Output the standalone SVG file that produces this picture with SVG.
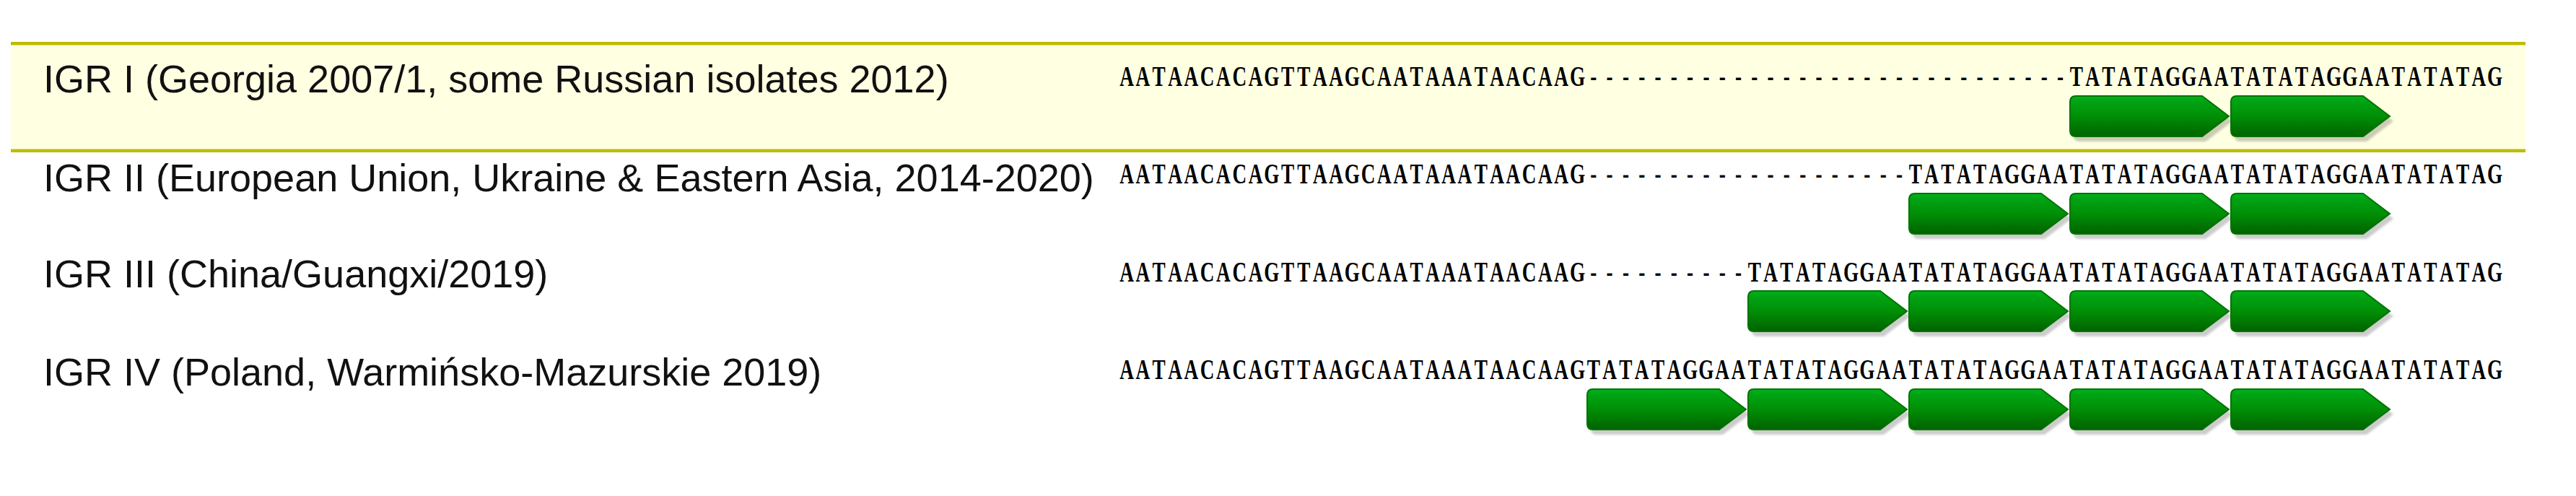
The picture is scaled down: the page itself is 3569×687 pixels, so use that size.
<svg xmlns="http://www.w3.org/2000/svg" xmlns:xlink="http://www.w3.org/1999/xlink" width="3569" height="687" viewBox="0 0 3569 687">
<style>
.lbl{font-family:"Liberation Sans",Arial,sans-serif;font-size:54px;fill:#111}
.seq{font-family:"Liberation Serif","Times New Roman",serif;font-size:39px;font-weight:bold;fill:#000;text-anchor:middle}
.band{fill:#ffffe2}
.rule{fill:#bdbb00}
</style>
<defs>
<linearGradient id="gg" x1="0" y1="0" x2="0" y2="1">
<stop offset="0" stop-color="#00b31e"/>
<stop offset="0.12" stop-color="#00a414"/>
<stop offset="0.5" stop-color="#008f06"/>
<stop offset="1" stop-color="#006200"/>
</linearGradient>
<filter id="blur" x="-10%" y="-20%" width="120%" height="140%"><feGaussianBlur stdDeviation="1.6"/></filter>
<path id="ap" d="M8,0 H183 L220,28 L183,56 H8 Q0,56 0,48 V8 Q0,0 8,0 Z"/>
<g id="arrow">
<use xlink:href="#ap" href="#ap" transform="translate(5,7)" fill="#000" fill-opacity="0.2" filter="url(#blur)"/>
<use xlink:href="#ap" href="#ap" fill="url(#gg)" stroke="#007300" stroke-width="2"/>
</g>
</defs>
<rect x="0" y="0" width="3569" height="687" fill="#fff"/>
<g id="band1">
<rect class="band" x="15" y="58" width="3484" height="153"/>
<rect class="rule" x="15" y="58" width="3484" height="4.5"/>
<rect class="rule" x="15" y="206.5" width="3484" height="4.5"/>
</g>
<g id="connectors"/>
<g id="row1">
<text class="lbl" x="60" y="128">IGR I (Georgia 2007/1, some Russian isolates 2012)</text>
<g transform="scale(0.7,1)"><text class="seq" y="119" x="2230.2 2262.1 2293.9 2325.8 2357.6 2389.5 2421.4 2453.2 2485.1 2516.9 2548.8 2580.6 2612.5 2644.4 2676.2 2708.1 2739.9 2771.8 2803.6 2835.5 2867.3 2899.2 2931.1 2962.9 2994.8 3026.6 3058.5 3090.3 3122.2 3154.1 3185.9 3217.8 3249.6 3281.5 3313.3 3345.2 3377.1 3408.9 3440.8 3472.6 3504.5 3536.3 3568.2 3600.0 3631.9 3663.8 3695.6 3727.5 3759.3 3791.2 3823.0 3854.9 3886.8 3918.6 3950.5 3982.3 4014.2 4046.0 4077.9 4109.8 4141.6 4173.5 4205.3 4237.2 4269.0 4300.9 4332.8 4364.6 4396.5 4428.3 4460.2 4492.0 4523.9 4555.7 4587.6 4619.5 4651.3 4683.2 4715.0 4746.9 4778.7 4810.6 4842.5 4874.3 4906.2 4938.0">AATAACACAGTTAAGCAATAAATAACAAG------------------------------TATATAGGAATATATAGGAATATATAG</text></g>
<use xlink:href="#arrow" href="#arrow" x="2868" y="133"/>
<use xlink:href="#arrow" href="#arrow" x="3091" y="133"/>
</g>
<g id="row2">
<text class="lbl" x="60" y="265">IGR II (European Union, Ukraine &amp; Eastern Asia, 2014-2020)</text>
<g transform="scale(0.7,1)"><text class="seq" y="254" x="2230.2 2262.1 2293.9 2325.8 2357.6 2389.5 2421.4 2453.2 2485.1 2516.9 2548.8 2580.6 2612.5 2644.4 2676.2 2708.1 2739.9 2771.8 2803.6 2835.5 2867.3 2899.2 2931.1 2962.9 2994.8 3026.6 3058.5 3090.3 3122.2 3154.1 3185.9 3217.8 3249.6 3281.5 3313.3 3345.2 3377.1 3408.9 3440.8 3472.6 3504.5 3536.3 3568.2 3600.0 3631.9 3663.8 3695.6 3727.5 3759.3 3791.2 3823.0 3854.9 3886.8 3918.6 3950.5 3982.3 4014.2 4046.0 4077.9 4109.8 4141.6 4173.5 4205.3 4237.2 4269.0 4300.9 4332.8 4364.6 4396.5 4428.3 4460.2 4492.0 4523.9 4555.7 4587.6 4619.5 4651.3 4683.2 4715.0 4746.9 4778.7 4810.6 4842.5 4874.3 4906.2 4938.0">AATAACACAGTTAAGCAATAAATAACAAG--------------------TATATAGGAATATATAGGAATATATAGGAATATATAG</text></g>
<use xlink:href="#arrow" href="#arrow" x="2645" y="268"/>
<use xlink:href="#arrow" href="#arrow" x="2868" y="268"/>
<use xlink:href="#arrow" href="#arrow" x="3091" y="268"/>
</g>
<g id="row3">
<text class="lbl" x="60" y="398">IGR III (China/Guangxi/2019)</text>
<g transform="scale(0.7,1)"><text class="seq" y="390" x="2230.2 2262.1 2293.9 2325.8 2357.6 2389.5 2421.4 2453.2 2485.1 2516.9 2548.8 2580.6 2612.5 2644.4 2676.2 2708.1 2739.9 2771.8 2803.6 2835.5 2867.3 2899.2 2931.1 2962.9 2994.8 3026.6 3058.5 3090.3 3122.2 3154.1 3185.9 3217.8 3249.6 3281.5 3313.3 3345.2 3377.1 3408.9 3440.8 3472.6 3504.5 3536.3 3568.2 3600.0 3631.9 3663.8 3695.6 3727.5 3759.3 3791.2 3823.0 3854.9 3886.8 3918.6 3950.5 3982.3 4014.2 4046.0 4077.9 4109.8 4141.6 4173.5 4205.3 4237.2 4269.0 4300.9 4332.8 4364.6 4396.5 4428.3 4460.2 4492.0 4523.9 4555.7 4587.6 4619.5 4651.3 4683.2 4715.0 4746.9 4778.7 4810.6 4842.5 4874.3 4906.2 4938.0">AATAACACAGTTAAGCAATAAATAACAAG----------TATATAGGAATATATAGGAATATATAGGAATATATAGGAATATATAG</text></g>
<use xlink:href="#arrow" href="#arrow" x="2422" y="403"/>
<use xlink:href="#arrow" href="#arrow" x="2645" y="403"/>
<use xlink:href="#arrow" href="#arrow" x="2868" y="403"/>
<use xlink:href="#arrow" href="#arrow" x="3091" y="403"/>
</g>
<g id="row4">
<text class="lbl" x="60" y="534">IGR IV (Poland, Warmińsko-Mazurskie 2019)</text>
<g transform="scale(0.7,1)"><text class="seq" y="525" x="2230.2 2262.1 2293.9 2325.8 2357.6 2389.5 2421.4 2453.2 2485.1 2516.9 2548.8 2580.6 2612.5 2644.4 2676.2 2708.1 2739.9 2771.8 2803.6 2835.5 2867.3 2899.2 2931.1 2962.9 2994.8 3026.6 3058.5 3090.3 3122.2 3154.1 3185.9 3217.8 3249.6 3281.5 3313.3 3345.2 3377.1 3408.9 3440.8 3472.6 3504.5 3536.3 3568.2 3600.0 3631.9 3663.8 3695.6 3727.5 3759.3 3791.2 3823.0 3854.9 3886.8 3918.6 3950.5 3982.3 4014.2 4046.0 4077.9 4109.8 4141.6 4173.5 4205.3 4237.2 4269.0 4300.9 4332.8 4364.6 4396.5 4428.3 4460.2 4492.0 4523.9 4555.7 4587.6 4619.5 4651.3 4683.2 4715.0 4746.9 4778.7 4810.6 4842.5 4874.3 4906.2 4938.0">AATAACACAGTTAAGCAATAAATAACAAGTATATAGGAATATATAGGAATATATAGGAATATATAGGAATATATAGGAATATATAG</text></g>
<use xlink:href="#arrow" href="#arrow" x="2199" y="539"/>
<use xlink:href="#arrow" href="#arrow" x="2422" y="539"/>
<use xlink:href="#arrow" href="#arrow" x="2645" y="539"/>
<use xlink:href="#arrow" href="#arrow" x="2868" y="539"/>
<use xlink:href="#arrow" href="#arrow" x="3091" y="539"/>
</g>
</svg>
